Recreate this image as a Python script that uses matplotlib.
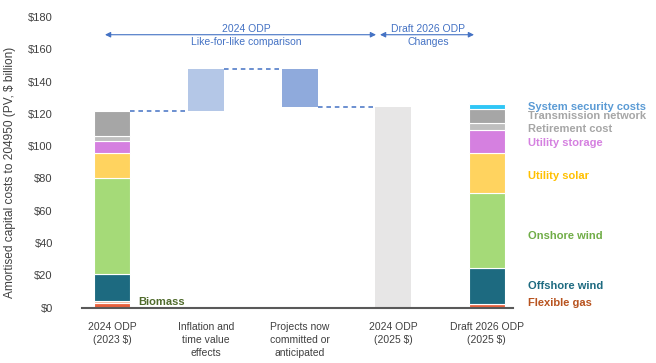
import numpy as np
import matplotlib
matplotlib.use("Agg")
import matplotlib.pyplot as plt

plt.rcParams["font.family"] = ["Liberation Sans", "DejaVu Sans"]

# categories along the x axis
categories = ["2024 ODP\n(2023 $)", "Inflation and\ntime value\neffects",
              "Projects now\ncommitted or\nanticipated", "2024 ODP\n(2025 $)",
              "Draft 2026 ODP\n(2025 $)"]

# stacked components, bottom to top
components = ["Flexible gas", "Biomass", "Offshore wind", "Onshore wind", "Utility solar",
              "Utility storage", "Retirement cost", "Transmission network",
              "System security costs"]
odp_2024 = [2.8, 1.2, 16.6, 59.9, 15.4, 7.3, 3.0, 15.8, 0.0]
draft_2026 = [2.0, 0.4, 22.2, 46.2, 25.2, 14.0, 4.3, 8.7, 3.3]

# waterfall steps between the two
step_changes = [25.5, -23.0]

seg_colors = ["#E8603C", "#E9B49C", "#1D6A80", "#A5DA78", "#FFD35F",
              "#D580E0", "#BFBFBF", "#A6A6A6", "#2FC6F6"]
label_colors = ["#B8531F", "#4F6A2B", "#1D6A80", "#70AD47", "#FFC000",
                "#D580E0", "#A6A6A6", "#A6A6A6", "#5B9BD5"]
# label heights (in $ billion) for the right-hand labels
label_y = [2.7, 3.4, 13.4, 44.4, 81.6, 101.9, 110.6, 118.5, 124.3]

blue = "#4472C4"
width = 0.385

fig = plt.figure(figsize=(6.56, 3.63), dpi=100)
ax = fig.add_axes([0.125, 0.1523, 0.657, 0.801])

x = np.arange(len(categories))

# stacked bars
for col, vals in [(0, odp_2024), (4, draft_2026)]:
    bottom = 0.0
    for v, c in zip(vals, seg_colors):
        if v > 0:
            ax.bar(col, v, width, bottom=bottom, color=c, edgecolor="white", linewidth=0.8)
        bottom += v

# waterfall
start = sum(odp_2024)
levels = [start]
for ch in step_changes:
    levels.append(levels[-1] + ch)
ax.bar(1, step_changes[0], width, bottom=levels[0], color="#B4C7E7")
ax.bar(2, -step_changes[1], width, bottom=levels[2], color="#8FAADC")
ax.bar(3, levels[2], width, color="#E7E6E6")

for i, lv in enumerate(levels):
    ax.plot([i + width / 2, i + 1 - width / 2], [lv, lv], color=blue, lw=1.1,
            dashes=(3, 2.5))

# right-hand labels
for name, c, yv in zip(components, label_colors, label_y):
    if name == "Biomass":
        ax.text(0.273, yv, name, color=c, fontsize=8, fontweight="bold", va="center")
    else:
        ax.text(4.444, yv, name, color=c, fontsize=8, fontweight="bold", va="center",
                clip_on=False)

# top arrows
for x0, x1, xt, t1, t2 in [(-0.08, 2.818, 1.435, "2024 ODP", "Like-for-like comparison"),
                           (2.861, 3.866, 3.374, "Draft 2026 ODP", "Changes")]:
    ax.annotate("", xy=(x0, 169), xytext=(x1, 169),
                arrowprops=dict(arrowstyle="<|-|>", color=blue, lw=0.8, mutation_scale=8,
                                shrinkA=0, shrinkB=0))
    ax.text(xt, 172.7, t1, color=blue, fontsize=7.5, ha="center", va="center")
    ax.text(xt, 164.2, t2, color=blue, fontsize=7.5, ha="center", va="center")

ax.set_xlim(-0.326, 4.283)
ax.set_ylim(0, 180)
ax.set_yticks(np.arange(0, 181, 20))
ax.set_yticklabels([f"${v}" for v in range(0, 181, 20)])
ax.set_xticks(x)
ax.set_xticklabels(categories, fontsize=7.5, color="#404040", linespacing=1.4)
ax.tick_params(axis="y", length=0, pad=21, labelsize=8, labelcolor="#404040")
ax.tick_params(axis="x", length=0, pad=10)
for s in ["top", "right", "left"]:
    ax.spines[s].set_visible(False)
ax.spines["bottom"].set_color("#595959")
ax.spines["bottom"].set_linewidth(1.5)

fig.text(0.016, 0.526, "Amortised capital costs to 204950 (PV, $ billion)", rotation=90,
         fontsize=8.6, color="#404040", ha="center", va="center")

fig.savefig("out.png", dpi=100)
